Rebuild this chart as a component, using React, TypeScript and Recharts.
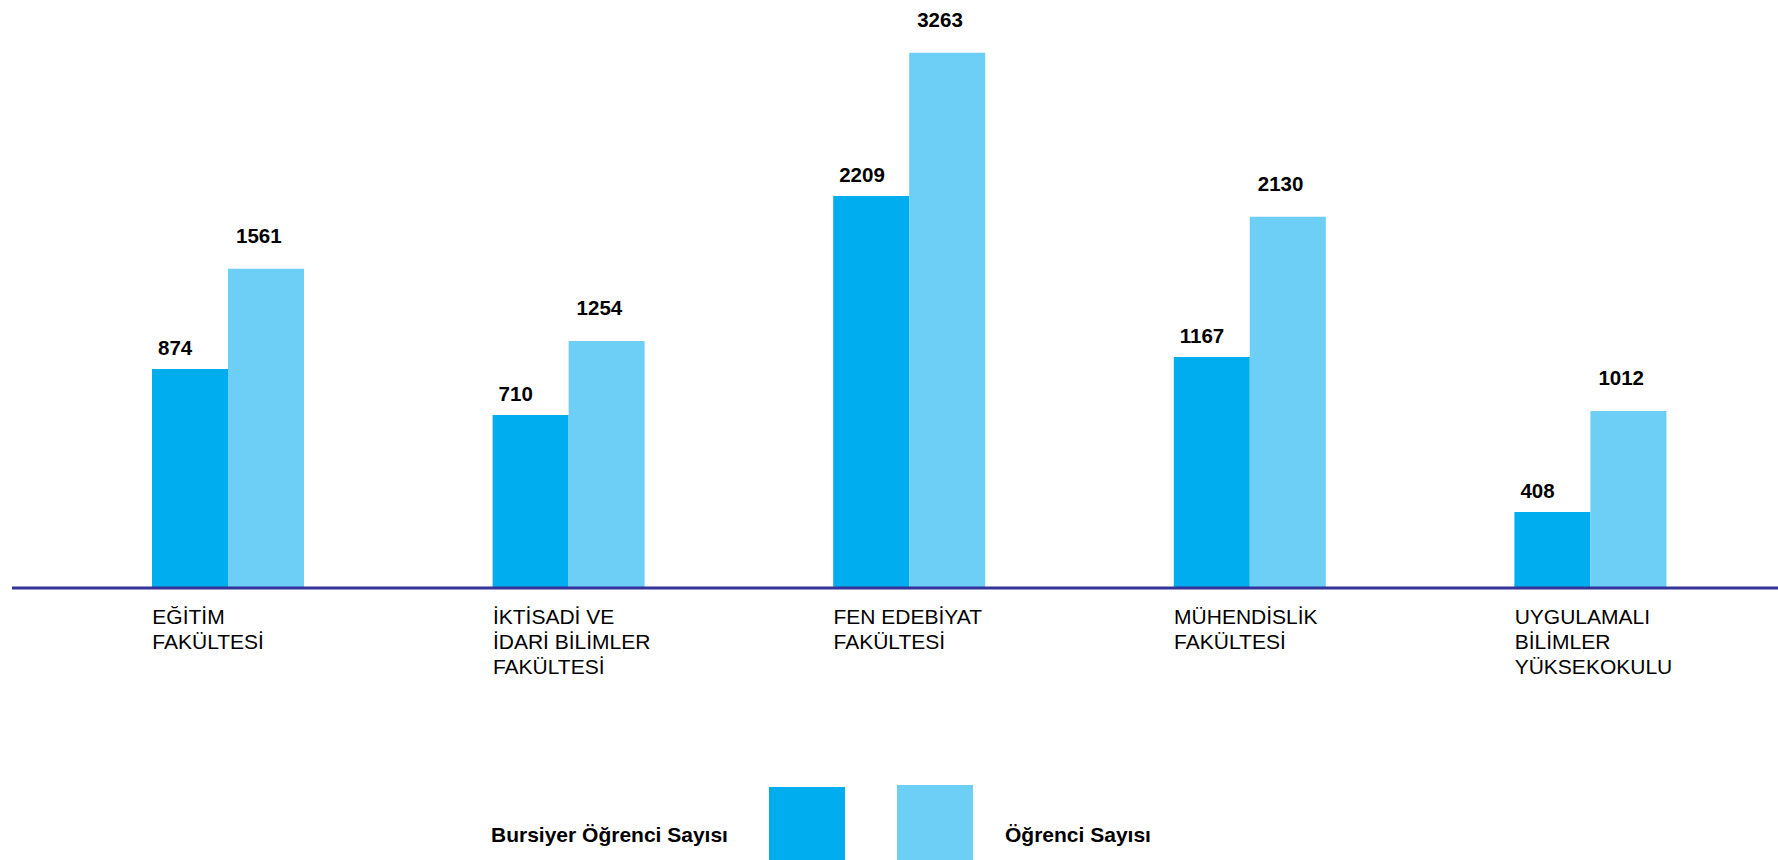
import { BarChart, Bar, XAxis, YAxis, LabelList } from "recharts"

// Fakülteler (satır sonu = etiket satırı)
const categories = [
  "EĞİTİM\nFAKÜLTESİ",
  "İKTİSADİ VE\nİDARİ BİLİMLER\nFAKÜLTESİ",
  "FEN EDEBİYAT\nFAKÜLTESİ",
  "MÜHENDİSLİK\nFAKÜLTESİ",
  "UYGULAMALI\nBİLİMLER\nYÜKSEKOKULU",
]

// Etiketlerde yazan sayılar
const bursiyerLabels = [874, 710, 2209, 1167, 408]
const ogrenciLabels = [1561, 1254, 3263, 2130, 1012]

// Çubukların resimde çizildiği boy (en uzun çubuk 3263 ölçeğinde okunmuş).
// Orijinal grafikte çubuklar etiketlerle orantılı çizilmemiş.
const bursiyerDrawn = [1336, 1055, 2391, 1409, 464]
const ogrenciDrawn = [1946, 1506, 3263, 2263, 1080]

const seriesNames = ["Bursiyer Öğrenci Sayısı", "Öğrenci Sayısı"]

const W = 1778
const H = 860
const DARK = "#00AEEF"
const LIGHT = "#6DCFF6"
const FONT = "'Liberation Sans', Arial, sans-serif"
const BAR = 76

const rows = categories.map((name, i) => ({
  name,
  bursiyer: bursiyerDrawn[i],
  ogrenci: ogrenciDrawn[i],
  bursiyerLabel: bursiyerLabels[i],
  ogrenciLabel: ogrenciLabels[i],
}))

function CategoryTick(props: any) {
  const { x, y, payload } = props
  const lines = String(payload.value).split("\n")
  return (
    <text
      x={x - BAR}
      y={y + 36}
      fontFamily={FONT}
      fontSize={21}
      fill="#000"
      textAnchor="start"
    >
      {lines.map((l, i) => (
        <tspan key={i} x={x - BAR} dy={i === 0 ? 0 : 25}>
          {l}
        </tspan>
      ))}
    </text>
  )
}

const valueLabel = (dx: number, gap: number) => (props: any) => {
  const { x, y, value } = props
  return (
    <text
      x={x + dx}
      y={y - gap}
      fontFamily={FONT}
      fontSize={20.5}
      fontWeight="bold"
      fill="#000"
      textAnchor="start"
    >
      {value}
    </text>
  )
}

export default function App() {
  return (
    <div
      style={{
        position: "absolute",
        left: 0,
        top: 0,
        width: W,
        height: H,
        overflow: "hidden",
        background: "#fff",
      }}
    >
      <BarChart
        width={W}
        height={H}
        data={rows}
        margin={{ top: 14, right: 0, left: 12, bottom: 212 }}
        barGap={0}
        barCategoryGap={0}
      >
        <XAxis
          dataKey="name"
          height={60}
          interval={0}
          padding={{ left: 46, right: 17 }}
          axisLine={{ stroke: "#333399", strokeWidth: 3 }}
          tickLine={false}
          tickSize={0}
          tickMargin={0}
          tick={<CategoryTick />}
        />
        <YAxis hide domain={[0, 3500]} />
        <Bar dataKey="bursiyer" fill={DARK} barSize={BAR} isAnimationActive={false}>
          <LabelList dataKey="bursiyerLabel" content={valueLabel(6, 14)} />
        </Bar>
        <Bar dataKey="ogrenci" fill={LIGHT} barSize={BAR} isAnimationActive={false}>
          <LabelList dataKey="ogrenciLabel" content={valueLabel(8, 26)} />
        </Bar>
      </BarChart>

      {/* lejant */}
      <svg
        width={W}
        height={H}
        style={{ position: "absolute", left: 0, top: 0, pointerEvents: "none" }}
      >
        <text x={491} y={842} fontFamily={FONT} fontSize={21} fontWeight="bold" fill="#000">
          {seriesNames[0]}
        </text>
        <rect x={769} y={787} width={BAR} height={80} fill={DARK} />
        <rect x={897} y={785} width={BAR} height={80} fill={LIGHT} />
        <text x={1005} y={842} fontFamily={FONT} fontSize={21} fontWeight="bold" fill="#000">
          {seriesNames[1]}
        </text>
      </svg>
    </div>
  )
}
